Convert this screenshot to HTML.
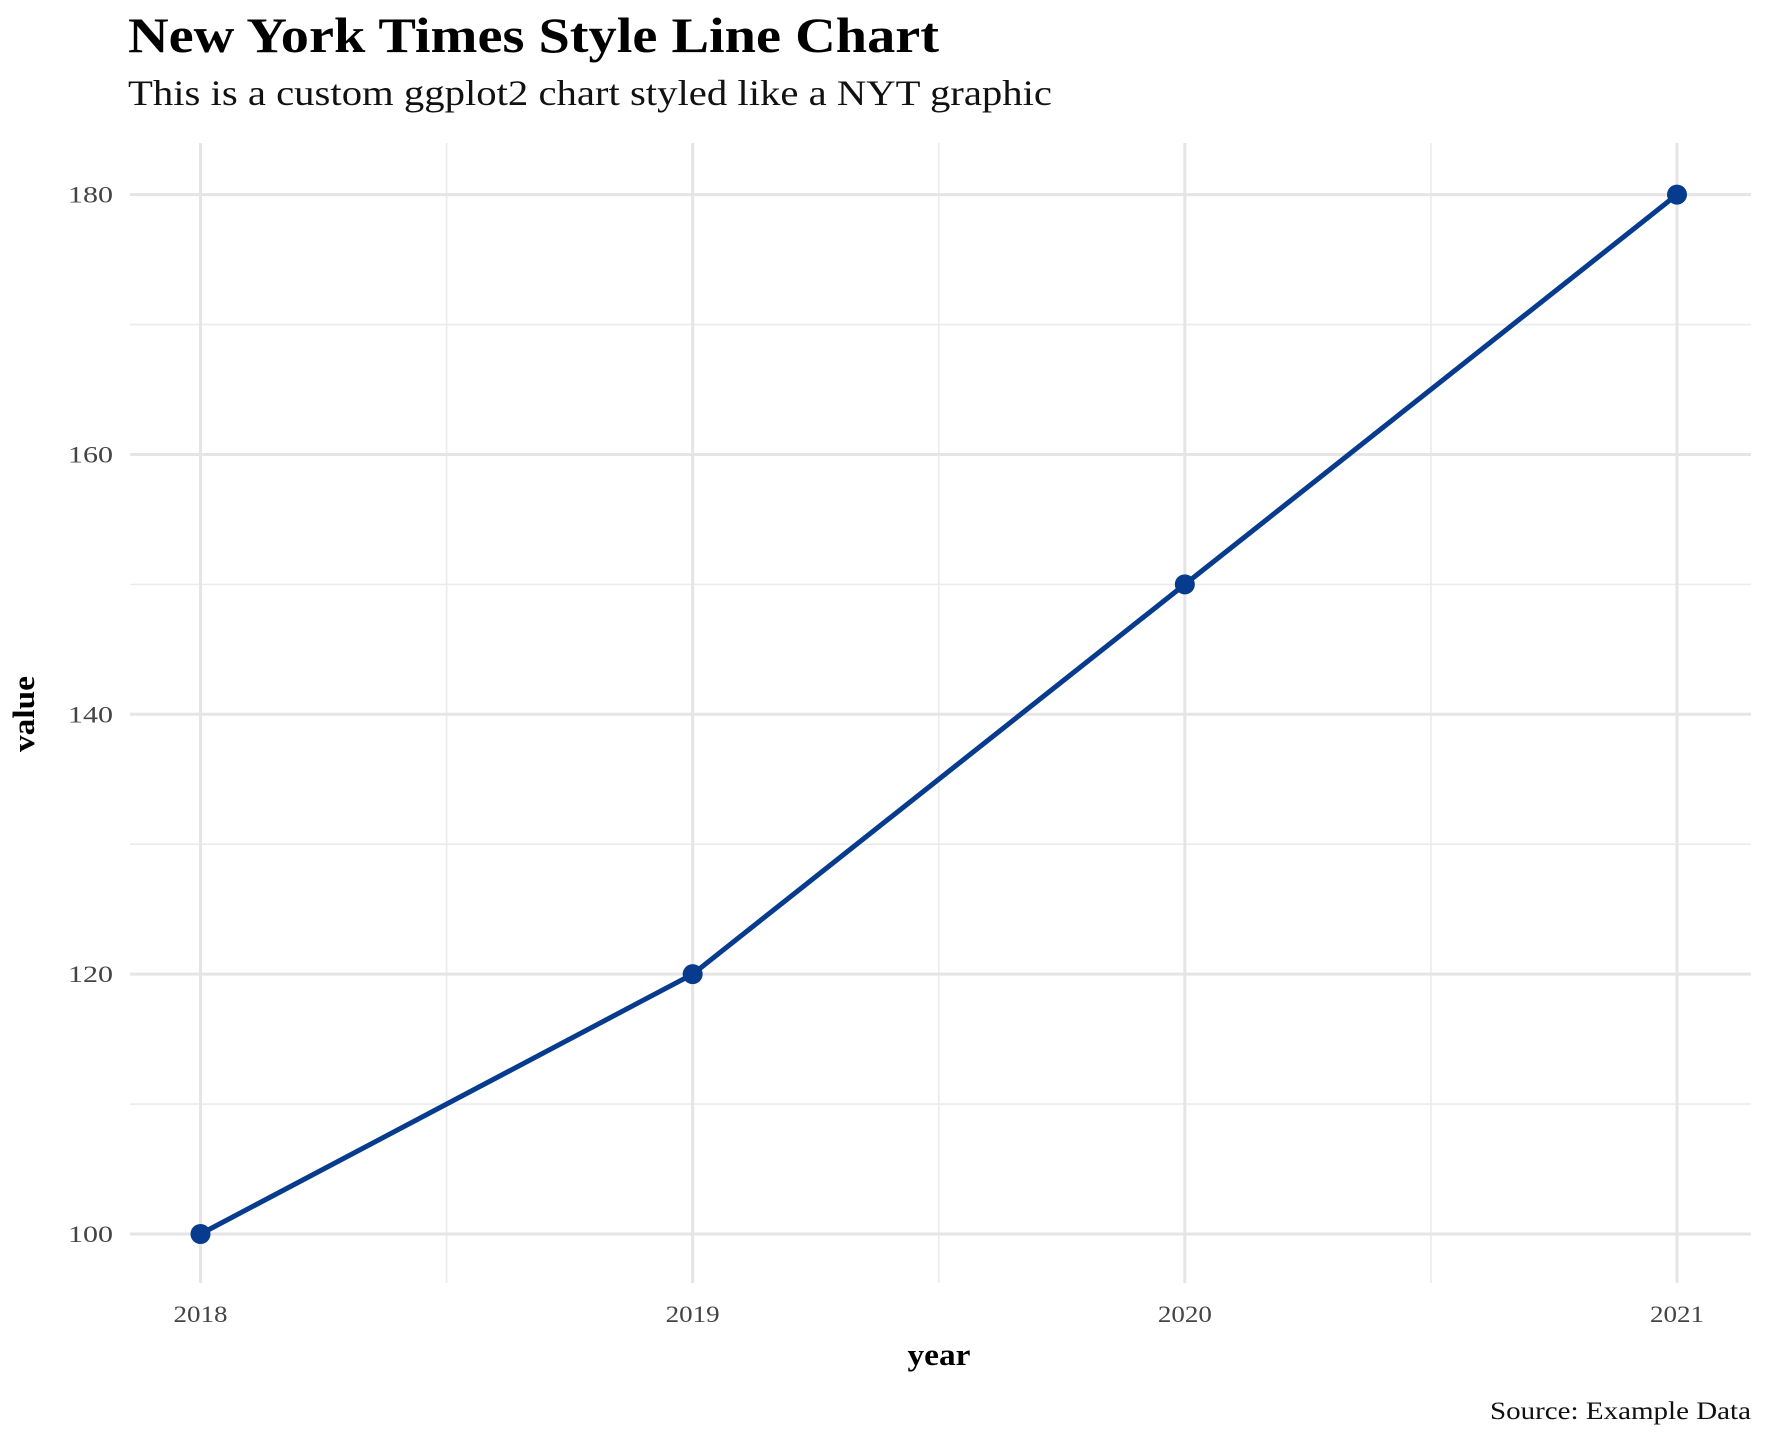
<!DOCTYPE html>
<html><head><meta charset="utf-8"><style>
html,body{margin:0;padding:0;background:#fff;}
svg{display:block;font-family:"Liberation Serif",serif;}
</style></head><body>
<svg id="chart" width="1766" height="1440" viewBox="0 0 1766 1440" xmlns="http://www.w3.org/2000/svg">
<text x="128" y="52" font-size="50" font-weight="bold" fill="#000" textLength="811" lengthAdjust="spacingAndGlyphs">New York Times Style Line Chart</text>
<text x="128" y="105" font-size="36" fill="#111" textLength="924" lengthAdjust="spacingAndGlyphs">This is a custom ggplot2 chart styled like a NYT graphic</text>
<g id="grid"></g>
<g id="ticks"></g>
<g id="series"></g>
<text x="939" y="1365" font-size="31" font-weight="bold" text-anchor="middle" textLength="63" lengthAdjust="spacingAndGlyphs">year</text>
<text transform="translate(34,714) rotate(-90)" font-size="31" font-weight="bold" text-anchor="middle" textLength="76" lengthAdjust="spacingAndGlyphs">value</text>
<text x="1751" y="1419" font-size="25" text-anchor="end" fill="#111" textLength="261" lengthAdjust="spacingAndGlyphs">Source: Example Data</text>
</svg>
<script>
const years = [2018, 2019, 2020, 2021];
const values = [100, 120, 150, 180];
const yTicks = [100, 120, 140, 160, 180];
const yMinorTicks = [110, 130, 150, 170];
const xMinorTicks = [2018.5, 2019.5, 2020.5];

const NS = "http://www.w3.org/2000/svg";
const X0 = 200.5, X1 = 1677, Y0 = 1234, Y1 = 194.6;
const px = v => X0 + (v - 2018) / 3 * (X1 - X0);
const py = v => Y0 + (v - 100) / 80 * (Y1 - Y0);
const L = 130, R = 1751, T = 143, B = 1283;
function mk(tag, attrs, parent) {
  const e = document.createElementNS(NS, tag);
  for (const k in attrs) e.setAttribute(k, attrs[k]);
  parent.appendChild(e);
  return e;
}
const grid = document.getElementById('grid');
const ticks = document.getElementById('ticks');
const series = document.getElementById('series');
yMinorTicks.forEach(v => {
  const l = mk('line', {x1: L, x2: R, y1: py(v), y2: py(v), stroke: '#ebebeb', 'stroke-width': 1.6}, grid);
  
  
});
xMinorTicks.forEach(v => {
  const l = mk('line', {x1: px(v), x2: px(v), y1: T, y2: B, stroke: '#ebebeb', 'stroke-width': 1.6}, grid);
  
  
});
yTicks.forEach(v => {
  const l = mk('line', {x1: L, x2: R, y1: py(v), y2: py(v), stroke: '#e5e5e5', 'stroke-width': 3}, grid);
  
  
  const t = mk('text', {x: 113, y: py(v) + 8, 'font-size': 23, fill: '#444', 'text-anchor': 'end', textLength: 45, lengthAdjust: 'spacingAndGlyphs'}, ticks);
  t.textContent = v;
  
  
});
years.forEach(v => {
  const l = mk('line', {x1: px(v), x2: px(v), y1: T, y2: B, stroke: '#e5e5e5', 'stroke-width': 3}, grid);
  
  
  const t = mk('text', {x: px(v), y: 1322, 'font-size': 23, fill: '#444', 'text-anchor': 'middle', textLength: 54, lengthAdjust: 'spacingAndGlyphs'}, ticks);
  t.textContent = v;
  
  
});
const pts = years.map((y, i) => px(y) + ',' + py(values[i])).join(' ');
const line = mk('polyline', {points: pts, fill: 'none', stroke: '#063b8e', 'stroke-width': 5, 'stroke-linejoin': 'round'}, series);


years.forEach((y, i) => {
  const c = mk('circle', {cx: px(y), cy: py(values[i]), r: 10, fill: '#063b8e'}, series);
  
  
});
</script>
</body></html>
